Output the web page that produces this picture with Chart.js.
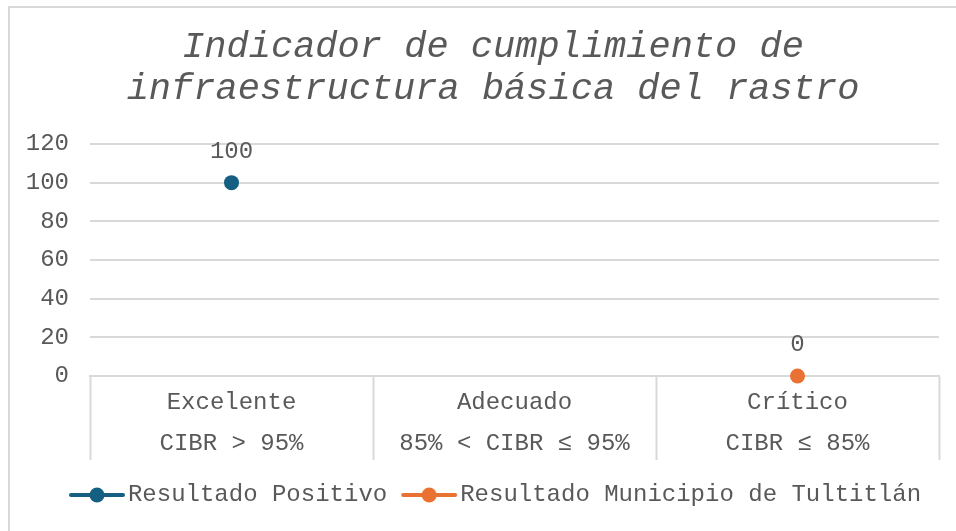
<!DOCTYPE html>
<html>
<head>
<meta charset="utf-8">
<script src="https://cdn.jsdelivr.net/npm/chart.js@4"></script>
<style>
  html, body { margin: 0; padding: 0; background: #fff; overflow: hidden; }
  #wrap { position: relative; width: 956px; height: 531px; }
  #frame { position: absolute; left: 8px; top: 6px; width: 1000px; height: 600px;
           border-left: 2px solid #d9d9d9; border-top: 2px solid #d9d9d9; }
  #chart { position: absolute; left: 0; top: 0; }
</style>
</head>
<body>
<div id="wrap">
  <div id="frame"></div>
  <canvas id="chart" width="956" height="531"></canvas>
</div>
<script>
const categories = [
  ['Excelente', 'CIBR > 95%'],
  ['Adecuado', '85% < CIBR \u2264 95%'],
  ['Cr\u00edtico', 'CIBR \u2264 85%']
];
const resultadoPositivo = [100, null, null];
const resultadoTultitlan = [null, null, 0];
const yTicks = [0, 20, 40, 60, 80, 100, 120];

const FONT = '"Liberation Mono", "Courier New", monospace';
const GREY = '#595959';
const GRID = '#d9d9d9';
const BLUE = '#156082';
const ORANGE = '#E97132';

// legend marker: a short line with a dot in the middle
// (drawn off-centre in a wider canvas so the legend spacing matches)
function marker(color) {
  const c = document.createElement('canvas');
  c.width = 73; c.height = 16;
  const g = c.getContext('2d');
  const x0 = 14;
  g.strokeStyle = color;
  g.lineWidth = 4;
  g.lineCap = 'round';
  g.beginPath(); g.moveTo(x0 + 3, 8); g.lineTo(x0 + 55, 8); g.stroke();
  g.fillStyle = color;
  g.beginPath(); g.arc(x0 + 29, 8, 7.5, 0, Math.PI * 2); g.fill();
  return c;
}
const markers = [marker(BLUE), marker(ORANGE)];

const valueLabels = {
  id: 'valueLabels',
  afterDatasetsDraw(chart) {
    const ctx = chart.ctx;
    ctx.save();
    ctx.font = '24px ' + FONT;
    ctx.fillStyle = GREY;
    ctx.textAlign = 'center';
    ctx.textBaseline = 'middle';
    chart.data.datasets.forEach((ds, i) => {
      chart.getDatasetMeta(i).data.forEach((pt, j) => {
        if (ds.data[j] === null) return;
        ctx.fillText(String(ds.data[j]), pt.x, pt.y - 31);
      });
    });
    ctx.restore();
  }
};

new Chart(document.getElementById('chart'), {
  type: 'line',
  data: {
    labels: categories,
    datasets: [{
      label: 'Resultado Positivo',
      data: resultadoPositivo,
      showLine: false,
      pointRadius: 7.5,
      pointBackgroundColor: BLUE,
      pointBorderWidth: 0,
      borderColor: BLUE,
      backgroundColor: BLUE,
      clip: false
    }, {
      label: 'Resultado Municipio de Tultitl\u00e1n',
      data: resultadoTultitlan,
      showLine: false,
      pointRadius: 7.5,
      pointBackgroundColor: ORANGE,
      pointBorderWidth: 0,
      borderColor: ORANGE,
      backgroundColor: ORANGE,
      clip: false
    }]
  },
  options: {
    responsive: false,
    animation: false,
    events: [],
    layout: { padding: { left: 47, right: 17, top: 0, bottom: 14 } },
    scales: {
      x: {
        offset: true,
        grid: {
          offset: true,
          drawOnChartArea: false,
          drawTicks: true,
          tickLength: 84,
          tickColor: GRID,
          tickWidth: 2
        },
        border: { display: true, color: GRID, width: 2 },
        ticks: {
          padding: -77.5,
          color: GREY,
          font: { family: FONT, size: 24, lineHeight: 1.71 },
          maxRotation: 0
        },
        afterFit(scale) { scale.height = 97; }
      },
      y: {
        min: 0,
        max: 120,
        afterBuildTicks(scale) { scale.ticks = yTicks.map(v => ({ value: v })); },
        grid: { color: GRID, lineWidth: 2, drawTicks: false },
        border: { display: false },
        ticks: {
          padding: 21,
          color: GREY,
          font: { family: FONT, size: 24 }
        },
        afterFit(scale) {
          scale.width = 43;
          // labels overhang the narrow axis box, so don't clip them
          scale._computeLabelArea = () => undefined;
        }
      }
    },
    plugins: {
      title: {
        display: true,
        text: ['Indicador de cumplimiento de', 'infraestructura b\u00e1sica del rastro'],
        color: GREY,
        font: { family: FONT, size: 37, style: 'italic', weight: 'normal', lineHeight: 1.135 },
        padding: { top: 26, bottom: 34 }
      },
      legend: {
        position: 'bottom',
        labels: {
          usePointStyle: true,
          pointStyleWidth: 51,
          boxHeight: 16,
          padding: 10,
          color: GREY,
          font: { family: FONT, size: 24 },
          generateLabels(chart) {
            const items = Chart.defaults.plugins.legend.labels.generateLabels(chart);
            items.forEach((it, i) => { it.pointStyle = markers[i]; });
            return items;
          }
        }
      },
      tooltip: { enabled: false }
    }
  },
  plugins: [valueLabels]
});
</script>
</body>
</html>
